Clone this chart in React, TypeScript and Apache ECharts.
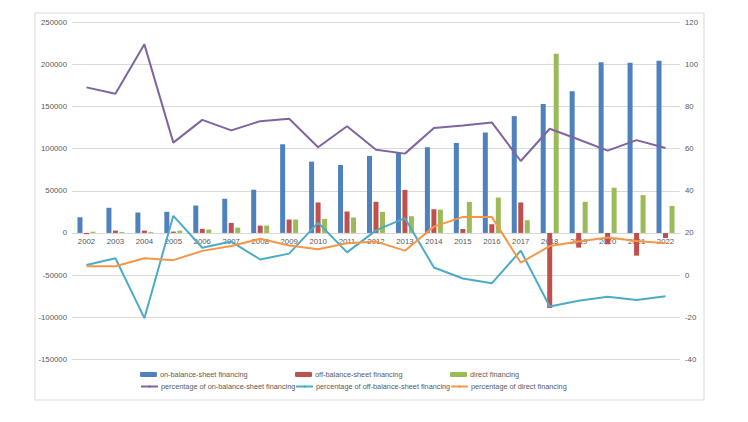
import React, { useEffect, useRef } from "react";
import * as echarts from "echarts";

const years = ["2002","2003","2004","2005","2006","2007","2008","2009","2010","2011","2012","2013","2014","2015","2016","2017","2018","2019","2020","2021","2022"];

const onBalance = [18600, 29800, 24200, 25000, 32500, 40500, 51200, 105100, 84500, 80500, 91300, 95200, 101600, 106700, 119000, 138500, 152800, 167800, 202400, 201600, 204000];
const offBalance = [-1500, 2800, 2800, 1600, 4800, 11900, 8700, 15900, 36100, 25400, 36900, 51000, 28100, 4700, 10300, 36100, -89000, -17400, -13400, -26900, -6000];
const direct = [1500, 1200, 1000, 2700, 4000, 6300, 8700, 15900, 16700, 18300, 25000, 19800, 27600, 36700, 41900, 15100, 212300, 36900, 53600, 44800, 32100];

const pctOnBalance = [89.0, 86.0, 109.4, 62.8, 73.6, 68.6, 73.0, 74.1, 60.6, 70.6, 59.4, 57.6, 69.7, 70.9, 72.4, 54.1, 69.4, 64.3, 59.0, 64.0, 60.3];
const pctOffBalance = [4.8, 8.0, -20.4, 28.1, 13.0, 15.9, 7.4, 10.2, 24.9, 10.8, 21.2, 27.0, 3.6, -1.6, -3.9, 11.6, -14.9, -12.1, -10.3, -11.8, -10.0];
const pctDirect = [4.2, 4.2, 8.0, 7.1, 11.5, 13.8, 17.2, 14.0, 12.3, 15.1, 15.9, 11.6, 23.0, 27.6, 27.6, 5.9, 13.8, 15.9, 17.8, 16.2, 15.1];

const leftTicks = { min: -150000, max: 250000, interval: 50000 };
const rightTicks = { min: -40, max: 120, interval: 20 };

const names = [
  "on-balance-sheet financing",
  "off-balance-sheet financing",
  "direct financing",
  "percentage of on-balance-sheet financing",
  "percentage of off-balance-sheet financing",
  "percentage of direct financing",
];
const colors = ["#4F81BD", "#C0504D", "#9BBB59", "#8064A2", "#4BACC6", "#F79646"];

const FONT = "Liberation Sans";
const TXT = "#595959";

export default function App() {
  const ref = useRef<HTMLDivElement>(null);
  useEffect(() => {
    if (!ref.current) return;
    const chart = echarts.init(ref.current, null, { renderer: "svg" });
    const H = 422;
    const gridTop = 22, gridBottom = 62.5;
    const plotH = H - gridTop - gridBottom;
    const zeroOffset = -plotH * (0 - leftTicks.min) / (leftTicks.max - leftTicks.min);
    const legendPos = [
      [140, 371], [295, 371], [450, 371],
      [140, 383], [295, 383], [450, 383],
    ];
    const legends = names.map((n, i) => ({
      data: [n],
      left: legendPos[i][0],
      top: legendPos[i][1],
      itemWidth: 17,
      itemHeight: i < 3 ? 5 : 3,
      itemGap: 3,
      padding: 0,
      textStyle: { fontSize: 7.3, color: TXT, fontFamily: FONT, padding: [0, 0, 0, -2] },
      selectedMode: false,
    }));
    const barSeries = [onBalance, offBalance, direct].map((d, i) => ({
      name: names[i],
      type: "bar",
      yAxisIndex: 0,
      data: d,
      barWidth: 5,
      barGap: "30%",
      itemStyle: { color: colors[i] },
    }));
    const lineSeries = [pctOnBalance, pctOffBalance, pctDirect].map((d, i) => ({
      name: names[i + 3],
      type: "line",
      yAxisIndex: 1,
      data: d,
      symbol: "none",
      lineStyle: { color: colors[i + 3], width: 2 },
      itemStyle: { color: colors[i + 3] },
    }));
    chart.setOption({
      animation: false,
      backgroundColor: "#ffffff",
      textStyle: { fontFamily: FONT },
      graphic: [
        {
          type: "rect",
          shape: { x: 35, y: 13, width: 669, height: 387 },
          style: { fill: "none", stroke: "#d9d9d9", lineWidth: 1 },
          silent: true,
        },
      ],
      grid: { left: 72, right: 68, top: gridTop, bottom: gridBottom, containLabel: false },
      legend: legends,
      xAxis: {
        type: "category",
        data: years,
        boundaryGap: true,
        position: "bottom",
        offset: zeroOffset,
        axisLine: { show: true, onZero: false, lineStyle: { color: "#d9d9d9" } },
        axisTick: { show: false },
        axisLabel: { color: TXT, fontSize: 7.8, fontFamily: FONT, margin: 5, interval: 0 },
        splitLine: { show: false },
      },
      yAxis: [
        {
          type: "value",
          ...leftTicks,
          axisLine: { show: false },
          axisTick: { show: false },
          axisLabel: { color: TXT, fontSize: 7.8, fontFamily: FONT, margin: 5, formatter: (v: number) => String(v) },
          splitLine: { show: true, lineStyle: { color: "#d9d9d9" } },
        },
        {
          type: "value",
          ...rightTicks,
          position: "right",
          axisLine: { show: false },
          axisTick: { show: false },
          axisLabel: { color: TXT, fontSize: 7.8, fontFamily: FONT, margin: 5, formatter: (v: number) => String(v) },
          splitLine: { show: false },
        },
      ],
      series: [...barSeries, ...lineSeries],
    });
    return () => chart.dispose();
  }, []);
  return (
    <div
      ref={ref}
      style={{ position: "absolute", left: 0, top: 0, width: 748, height: 422 }}
    />
  );
}
